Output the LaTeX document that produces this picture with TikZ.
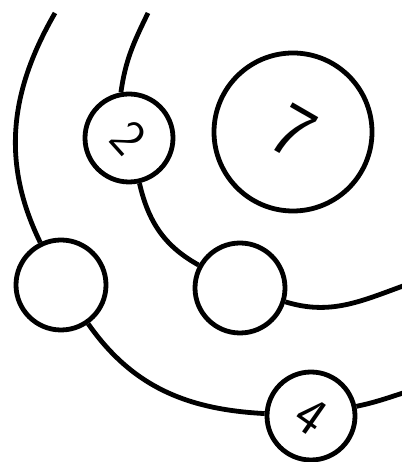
\documentclass[tikz,border=0pt]{standalone}
\usepackage{fontspec}
\usepackage{tikz}

\begin{document}
\begin{tikzpicture}[
  x=1pt, y=1pt,
  ring/.style={circle, draw, line width=4.8pt, fill=white, minimum size=88pt, inner sep=0pt},
  wire/.style={line width=4.8pt}]
\useasboundingbox (0,0) rectangle (401,462);
\coordinate (outtop) at (55,449);
\coordinate (outend) at (403,69);
\coordinate (intop) at (148,449);
\coordinate (inend) at (403,176);
\node[ring] (two) at (129,324) {\rotatebox{-48}{\fontsize{52}{52}\sffamily\selectfont 2}};
\node[ring, minimum size=158pt] (seven) at (293,330) {\rotatebox{-30}{\fontsize{76}{76}\sffamily\selectfont 7}};
\node[ring, minimum size=90pt] (left) at (61,177) {};
\node[ring, minimum size=90pt] (mid) at (240,174) {};
\node[ring] (four) at (311,46) {\rotatebox{-35}{\fontsize{54}{54}\sffamily\selectfont 4}};
% outer track
\draw[wire] (outtop) to[out=240, in=116] (left);
\draw[wire] (left) to[out=305, in=177] (four);
\draw[wire] (four) to[out=12, in=198] (outend);
% inner track
\draw[wire] (intop) to[out=244, in=82] (two.100);
\draw[wire] (two) to[out=283, in=151] (mid);
\draw[wire] (mid) to[out=343, in=200] (inend);
\end{tikzpicture}
\end{document}
